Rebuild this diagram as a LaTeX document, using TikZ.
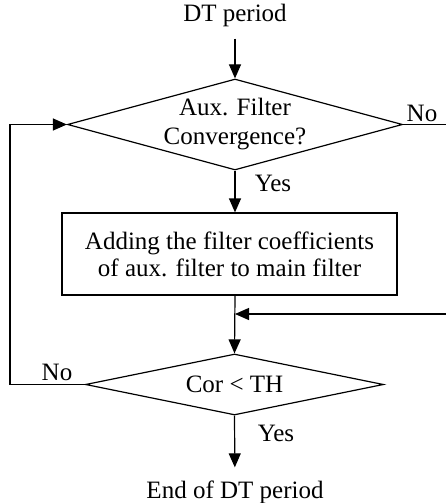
\documentclass[tikz,border=0pt]{standalone}
\usepackage{fontspec}
\setmainfont{Liberation Serif}
\usetikzlibrary{shapes.geometric,arrows.meta}
\begin{document}
\begin{tikzpicture}[x=1pt,y=-1pt,
  every node/.style={font=\fontsize{25}{27}\selectfont},
  line/.style={line width=1.2pt},
  flow/.style={line, -{Triangle[length=14pt,width=12pt]}},
  decision/.style={diamond, draw, line width=1.2pt, inner sep=0pt, align=center},
  process/.style={rectangle, draw, line width=1.2pt, inner sep=0pt, align=center},
  caption/.style={inner sep=0pt}]
  \useasboundingbox (0,0) rectangle (446,503);

  % start and end labels
  \node[caption] (start) at (235,15) {DT period};
  \node[caption] (finish) at (235,492) {End of DT period};

  % first decision: convergence of the auxiliary filter
  \node[decision, aspect=3.68, minimum width=335pt, minimum height=91pt,
        font=\fontsize{25}{29}\selectfont] (conv) at (235,124.5)
    {Aux. Filter\\Convergence?};

  % coefficient transfer block
  \node[process, minimum width=335pt, minimum height=82pt] (add) at (229.5,254)
    {Adding the filter coefficients\\of aux. filter to main filter};

  % second decision: correlation threshold
  \node[decision, aspect=4.9, minimum width=298pt, minimum height=61pt] (cor) at (234.5,384.5)
    {Cor < TH};

  % branch labels
  \node[caption] (no1) at (422,113) {No};
  \node[caption] (yes1) at (273,183) {Yes};
  \node[caption] (no2) at (57,372) {No};
  \node[caption] (yes2) at (276,433) {Yes};

  % free ends of the side connectors
  \coordinate (outR) at (446,124.5);
  \coordinate (inR) at (446,314);
  \coordinate (loopB) at (10,384.5);
  \coordinate (loopT) at (10,124.5);

  % connectors
  \draw[flow, shorten <=12pt] (start) -- (conv.north);
  \draw[flow] (conv.south) -- (conv.south |- add.north);
  \draw[line] (conv.east) -- (outR);
  \draw[flow] (conv.south |- add.south) -- (cor.north);
  \draw[flow] (inR) -- (inR -| conv.south);
  \draw[flow] (cor.west) -- (loopB) -- (loopT) -- (conv.west);
  \draw[flow, shorten >=13pt] (cor.south) -- (finish);
\end{tikzpicture}
\end{document}
